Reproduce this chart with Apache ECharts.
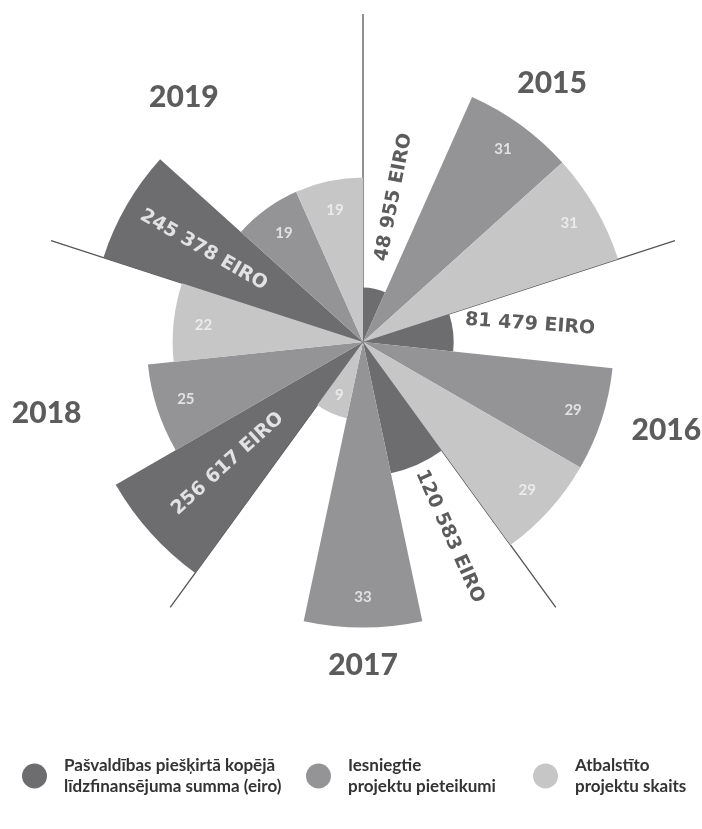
<!DOCTYPE html>
<html><head><meta charset="utf-8">
<script src="https://cdn.jsdelivr.net/npm/echarts@6/dist/echarts.min.js"></script>
<style>html,body{margin:0;padding:0;background:#fff}#c{width:702px;height:829px}</style>
</head><body><div id="c"></div>
<script>
// ---------------- data ----------------
const years = ['2015', '2016', '2017', '2018', '2019'];
const fundingEur = [48955, 81479, 120583, 256617, 245378];
const submitted = [31, 29, 33, 25, 19];
const supported = [31, 29, 9, 22, 19];
const seriesNames = [
  'Pašvaldības piešķirtā kopējā līdzfinansējuma summa (eiro)',
  'Iesniegtie projektu pieteikumi',
  'Atbalstīto projektu skaits'
];
const legendLabels = [
  'Pašvaldības piešķirtā kopējā\nlīdzfinansējuma summa (eiro)',
  'Iesniegtie\nprojektu pieteikumi',
  'Atbalstīto\nprojektu skaits'
];

// ---------------- layout / style ----------------
const CX = 363, CY = 342, R = 285.5, RL = 328;
const colors = ['#6d6d70', '#949496', '#c6c6c6'];
const textDark = '#333333';
const FONT = 'Lato';
const yearLabelR = 320;
const yearOffsets = [[1, 0], [-1, -11], [0, 3], [-12, -28], [9, 14]];
const eurLabelR = [148, 168, 213, 182, 184];
const eurLabelRot = [79, -4, -66, 42, -30];
const legendLeft = [17, 301, 528];
const legendTop = 750;

const slots = years.flatMap(y => [y + 'a', y + 'b', y + 'c']);
function slotData(arr, k) {
  const d = new Array(slots.length).fill(null);
  arr.forEach((v, i) => { d[i * 3 + k] = v; });
  return d;
}
const maxEur = Math.max(...fundingEur);
const maxCount = Math.max(...submitted, ...supported);
const fmtEur = v => String(v).replace(/\B(?=(\d{3})+(?!\d))/g, ' ') + ' EIRO';

function countLabels(arr, k) {
  return arr.map((v, i) => {
    const rpx = v / maxCount * R;
    return { value: [rpx - Math.min(30, 0.25 * rpx), i * 3 + k], label: { formatter: String(v) } };
  });
}

const hiddenAngle = (pi, data) => ({ polarIndex: pi, type: 'category', data, startAngle: 90, show: false });

const option = {
  animation: false,
  polar: [
    { center: [CX, CY], radius: R },
    { center: [CX, CY], radius: R },
    { center: [CX, CY], radius: RL },
    { center: [CX, CY], radius: RL }
  ],
  angleAxis: [
    hiddenAngle(0, slots),
    hiddenAngle(1, slots),
    {
      polarIndex: 2, type: 'category', data: years, startAngle: 90,
      axisLine: { show: false }, axisTick: { show: false }, axisLabel: { show: false },
      splitLine: { show: true, lineStyle: { color: '#555555', width: 1.3 } }
    },
    hiddenAngle(3, slots)
  ],
  radiusAxis: [
    { polarIndex: 0, type: 'value', min: 0, max: maxEur, show: false },
    { polarIndex: 1, type: 'value', min: 0, max: maxCount, show: false },
    { polarIndex: 2, type: 'value', min: 0, max: RL, show: false },
    { polarIndex: 3, type: 'value', min: 0, max: RL, show: false }
  ],
  legend: seriesNames.map((n, i) => ({
    data: [n], left: legendLeft[i], top: legendTop, icon: 'circle',
    itemWidth: 25, itemHeight: 25, itemGap: 0, selectedMode: false,
    formatter: () => legendLabels[i],
    textStyle: { fontFamily: FONT, fontWeight: 'bold', fontSize: 17, color: textDark, lineHeight: 21, padding: [0, 0, 0, 12] }
  })),
  series: [
    {
      type: 'bar', name: seriesNames[0], coordinateSystem: 'polar', polarIndex: 0,
      data: slotData(fundingEur, 0), barCategoryGap: '0%',
      itemStyle: { color: colors[0] }, silent: true
    },
    {
      type: 'bar', name: seriesNames[1], coordinateSystem: 'polar', polarIndex: 1,
      data: slotData(submitted, 1), barGap: '-100%', barCategoryGap: '0%',
      itemStyle: { color: colors[1] }, silent: true
    },
    {
      type: 'bar', name: seriesNames[2], coordinateSystem: 'polar', polarIndex: 1,
      data: slotData(supported, 2), barGap: '-100%', barCategoryGap: '0%',
      itemStyle: { color: colors[2] }, silent: true
    },
    {
      type: 'scatter', coordinateSystem: 'polar', polarIndex: 2, symbolSize: 0, silent: true,
      data: years.map((y, i) => ({ value: [yearLabelR, i], label: { offset: yearOffsets[i] } })),
      label: {
        show: true, position: 'inside', formatter: p => years[p.dataIndex],
        fontFamily: FONT, fontWeight: 900, fontSize: 30, color: textDark
      },
      z: 5
    },
    {
      type: 'scatter', coordinateSystem: 'polar', polarIndex: 3, symbolSize: 0, silent: true,
      data: countLabels(submitted, 1).concat(countLabels(supported, 2)),
      label: { show: true, position: 'inside', fontFamily: FONT, fontWeight: 'bold', fontSize: 15, color: '#f4f4f4' },
      z: 5
    },
    {
      type: 'scatter', coordinateSystem: 'polar', polarIndex: 3, symbolSize: 0, silent: true,
      data: fundingEur.map((v, i) => {
        const inside = eurLabelR[i] < v / maxEur * R;
        return {
          value: [eurLabelR[i], i * 3],
          label: { formatter: fmtEur(v), rotate: eurLabelRot[i], color: inside ? '#ffffff' : textDark }
        };
      }),
      label: { show: true, position: 'inside', fontFamily: 'DejaVu Sans', fontWeight: 'bold', fontSize: 19 },
      z: 5
    }
  ]
};
const chart = echarts.init(document.getElementById('c'), null, { renderer: 'canvas' });
chart.setOption(option);
</script>
</body></html>
